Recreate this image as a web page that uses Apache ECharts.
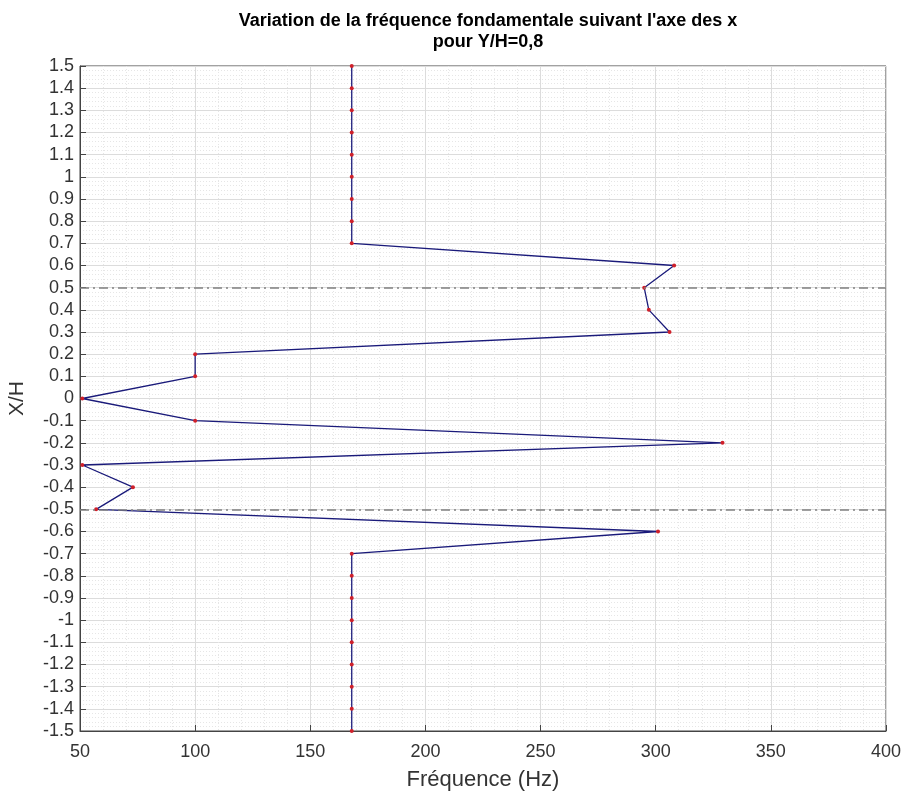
<!DOCTYPE html>
<html><head><meta charset="utf-8">
<script src="https://cdn.jsdelivr.net/npm/echarts@6/dist/echarts.min.js"></script>
<style>html,body{margin:0;padding:0;background:#fff}#c{width:904px;height:791px}</style>
</head><body><div id="c"></div>
<script>
// X/H positions (top to bottom)
var xhValues = [1.5,1.4,1.3,1.2,1.1,1.0,0.9,0.8,0.7,0.6,0.5,0.4,0.3,0.2,0.1,0,-0.1,-0.2,-0.3,-0.4,-0.5,-0.6,-0.7,-0.8,-0.9,-1.0,-1.1,-1.2,-1.3,-1.4,-1.5];
// fundamental frequency (Hz)
var freqValues = [168,168,168,168,168,168,168,168,168,308,295,297,306,100,100,51,100,329,51,73,57,301,168,168,168,168,168,168,168,168,168];
var refLines = [0.5, -0.5];
var titleLines = ["Variation de la fréquence fondamentale suivant l'axe des x", "pour Y/H=0,8"];

var pts = xhValues.map(function(y, i){ return [freqValues[i], y]; });
var font = 'Liberation Sans, Arial, Helvetica, sans-serif';
var chart = echarts.init(document.getElementById('c'));
chart.setOption({
  animation: false,
  backgroundColor: '#fff',
  title: {
    text: titleLines.join('\n'), left: 483, top: 6, textAlign: 'center',
    textStyle: {fontFamily: font, fontSize: 18, fontWeight: 'bold', color: '#000', lineHeight: 21}
  },
  grid: {left: 80, right: 18, top: 66, bottom: 60, containLabel: false, outerBoundsMode: 'none',
    show: true, borderColor: '#444', borderWidth: 1},
  xAxis: {
    type: 'value', min: 50, max: 400, interval: 50,
    name: 'Fréquence (Hz)', nameLocation: 'middle', nameGap: 38,
    nameTextStyle: {fontFamily: font, fontSize: 22, color: '#333'},
    axisLine: {show: true, onZero: false, lineStyle: {color: '#444'}},
    axisTick: {show: true, inside: true, length: 6, lineStyle: {color: '#444'}},
    axisLabel: {fontFamily: font, fontSize: 18, color: '#333', margin: 12},
    splitLine: {show: true, lineStyle: {color: '#dcdcdc', width: 1}},
    minorTick: {show: false, splitNumber: 5},
    minorSplitLine: {show: true, lineStyle: {color: '#e6e6e6', type: [1, 2], width: 1}}
  },
  yAxis: {
    type: 'value', min: -1.5, max: 1.5, interval: 0.1,
    name: 'X/H', nameLocation: 'middle', nameGap: 52, nameRotate: 90,
    nameTextStyle: {fontFamily: font, fontSize: 21, color: '#333'},
    axisLine: {show: true, onZero: false, lineStyle: {color: '#444'}},
    axisTick: {show: true, inside: true, length: 6, lineStyle: {color: '#444'}},
    axisLabel: {fontFamily: font, fontSize: 18, color: '#333', margin: 6,
      formatter: function(v){ return String(+(+v).toFixed(1)); }},
    splitLine: {show: true, lineStyle: {color: '#dcdcdc', width: 1}},
    minorTick: {show: false, splitNumber: 5},
    minorSplitLine: {show: true, lineStyle: {color: '#e6e6e6', type: [1, 2], width: 1}}
  },
  series: [{
    type: 'line', data: pts, symbol: 'circle', symbolSize: 4,
    lineStyle: {color: '#1a1a7a', width: 1.3},
    itemStyle: {color: '#d0202a'},
    z: 3,
    markLine: {
      silent: true, symbol: 'none', label: {show: false},
      lineStyle: {color: '#808080', type: [9, 4, 2, 4], width: 1.5},
      data: refLines.map(function(v){ return {yAxis: v}; })
    }
  }]
});
</script></body></html>
